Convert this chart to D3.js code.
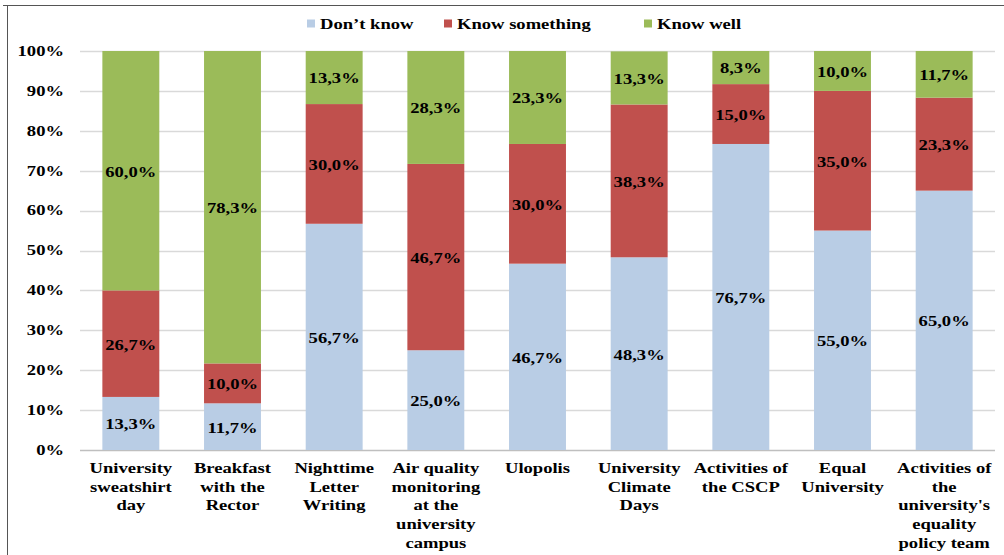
<!DOCTYPE html>
<html><head><meta charset="utf-8">
<script src="https://cdn.jsdelivr.net/npm/d3@7"></script>
<style>
body{margin:0;background:#fff;}
svg{display:block;}
text{font-family:"Liberation Serif","Times New Roman",serif;font-weight:bold;fill:#000;}
</style></head>
<body>
<svg id="chart" width="1004" height="555"></svg>
<script>
const categories = [
  ["University","sweatshirt","day"],
  ["Breakfast","with the","Rector"],
  ["Nighttime","Letter","Writing"],
  ["Air quality","monitoring","at the","university","campus"],
  ["Ulopolis"],
  ["University","Climate","Days"],
  ["Activities of","the CSCP"],
  ["Equal","University"],
  ["Activities of","the","university's","equality","policy team"]
];
const seriesNames = ["Don\u2019t know","Know something","Know well"];
const dontKnow      = [13.3, 11.7, 56.7, 25.0, 46.7, 48.3, 76.7, 55.0, 65.0];
const knowSomething = [26.7, 10.0, 30.0, 46.7, 30.0, 38.3, 15.0, 35.0, 23.3];
const knowWell      = [60.0, 78.3, 13.3, 28.3, 23.3, 13.3,  8.3, 10.0, 11.7];
const yTicks = [0,10,20,30,40,50,60,70,80,90,100];
const colors = ["#B9CDE5","#C0504D","#9BBB59"];

const svg = d3.select("#chart");
const SX = 1.24; // horizontal stretch of text
function stretchText(sel, x, y, str, anchor, size){
  const g = sel.append("g").attr("transform", `translate(${x},${y}) scale(${SX},1)`);
  g.append("text").attr("x",0).attr("y",0).attr("text-anchor",anchor)
    .attr("font-size",size).attr("dominant-baseline","central").text(str);
  return g;
}

// frame lines
svg.append("line").attr("x1",3).attr("x2",1004).attr("y1",5.5).attr("y2",5.5).attr("stroke","#555").attr("stroke-width",1);
svg.append("line").attr("x1",7.5).attr("x2",7.5).attr("y1",5).attr("y2",555).attr("stroke","#555").attr("stroke-width",1);

const x = d3.scaleBand().domain(d3.range(categories.length)).range([80,995]).paddingInner(0.44).paddingOuter(0.22);
const y = d3.scaleLinear().domain([0,100]).range([450,51]);

// gridlines
svg.append("g").selectAll("line").data(yTicks).join("line")
  .attr("x1",80).attr("x2",995).attr("y1",d=>Math.round(y(d))+0.5).attr("y2",d=>Math.round(y(d))+0.5)
  .attr("stroke",d=>d===0?"#BFBFBF":"#D9D9D9").attr("stroke-width",1.3);

// y tick labels
yTicks.forEach(t=>{
  stretchText(svg, 64, y(t), t+"%", "end", 15);
});

// stacked data
const rows = categories.map((c,i)=>({i, s0:dontKnow[i], s1:knowSomething[i], s2:knowWell[i]}));
const stack = d3.stack().keys(["s0","s1","s2"])(rows);

const fmt = v => v.toFixed(1).replace(".",",")+"%";
stack.forEach((layer,k)=>{
  const g = svg.append("g");
  g.selectAll("rect").data(layer).join("rect")
    .attr("x",d=>x(d.data.i)).attr("width",x.bandwidth())
    .attr("y",d=>y(d[1])).attr("height",d=>y(d[0])-y(d[1]))
    .attr("fill",colors[k]);
  layer.forEach(d=>{
    const v = d.data["s"+k];
    stretchText(svg, x(d.data.i)+x.bandwidth()/2, y((d[0]+d[1])/2)+1, fmt(v), "middle", 15);
  });
});

// category labels
categories.forEach((lines,i)=>{
  lines.forEach((ln,j)=>{
    stretchText(svg, x(i)+x.bandwidth()/2, 468+j*18.8, ln, "middle", 15);
  });
});

// legend
const legendX = [307, 444, 644];
seriesNames.forEach((n,k)=>{
  svg.append("rect").attr("x",legendX[k]).attr("y",19.5).attr("width",8).attr("height",8).attr("fill",colors[k]);
  stretchText(svg, legendX[k]+13, 24, n, "start", 15);
});
</script>
</body></html>
